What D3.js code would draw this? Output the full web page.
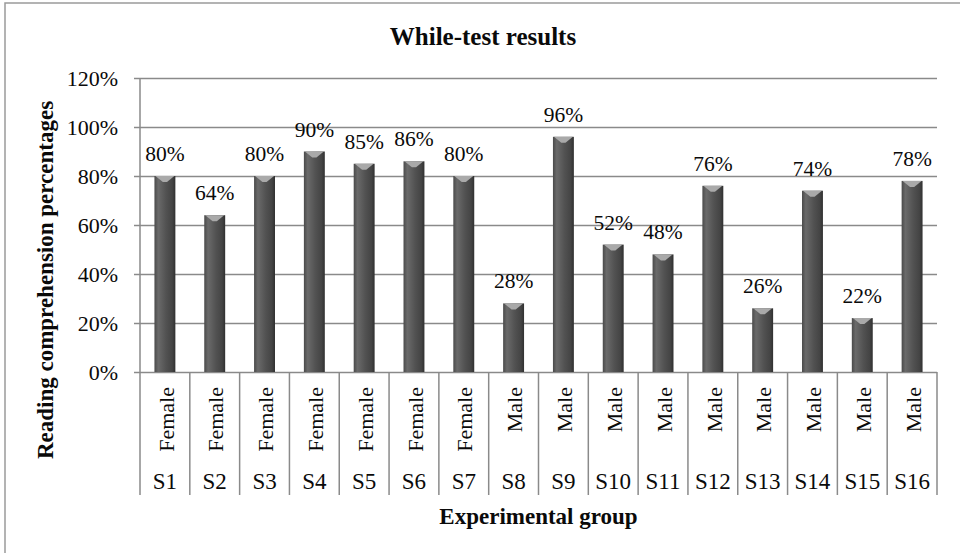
<!DOCTYPE html>
<html>
<head>
<meta charset="utf-8">
<script src="https://cdn.jsdelivr.net/npm/d3@7"></script>
<style>
  html, body { margin: 0; padding: 0; background: #fff; }
  svg { display: block; font-family: "Liberation Serif", "Times New Roman", serif; }
</style>
</head>
<body>
<svg id="chart" width="960" height="553"></svg>
<script>
// While-test results per student
const students = ["S1", "S2", "S3", "S4", "S5", "S6", "S7", "S8",
                  "S9", "S10", "S11", "S12", "S13", "S14", "S15", "S16"];
const genders = ["Female", "Female", "Female", "Female", "Female", "Female", "Female", "Male",
                 "Male", "Male", "Male", "Male", "Male", "Male", "Male", "Male"];
const scores = [0.80, 0.64, 0.80, 0.90, 0.85, 0.86, 0.80, 0.28,
                0.96, 0.52, 0.48, 0.76, 0.26, 0.74, 0.22, 0.78];
const yTicks = [0, 0.2, 0.4, 0.6, 0.8, 1.0, 1.2];

const svg = d3.select("#chart");
const W = 960, H = 553;
const plot = { left: 140, right: 937, top: 78, bottom: 372 };
const catBottom = 495;
const ink = "#0a0a0a";

// outer frame (cut off at right and bottom in the original)
svg.append("rect")
    .attr("x", 5).attr("y", 3)
    .attr("width", W + 20).attr("height", H + 20)
    .attr("fill", "#fff")
    .attr("stroke", "#9a9a9a")
    .attr("stroke-width", 1.5);

const x = d3.scaleBand()
    .domain(students)
    .range([plot.left, plot.right])
    .paddingInner(0)
    .paddingOuter(0);

const y = d3.scaleLinear()
    .domain([0, 1.2])
    .range([plot.bottom, plot.top]);

// gradient for the bars
const defs = svg.append("defs");
const grad = defs.append("linearGradient")
    .attr("id", "barGrad")
    .attr("x1", "0%").attr("x2", "100%").attr("y1", "0%").attr("y2", "0%");
[["0%", "#4a4a4a"], ["18%", "#6a6a6a"], ["55%", "#525252"], ["85%", "#444"], ["100%", "#303030"]]
    .forEach(([o, c]) => grad.append("stop").attr("offset", o).attr("stop-color", c));

// horizontal gridlines + tick marks
const yAxis = d3.axisLeft(y)
    .tickValues(yTicks)
    .tickSize(-(plot.right - plot.left))
    .tickFormat(d3.format(".0%"))
    .tickPadding(22);

const gy = svg.append("g")
    .attr("transform", `translate(${plot.left},0)`)
    .call(yAxis);
gy.select(".domain").remove();
gy.selectAll(".tick line")
    .attr("x1", -6)
    .attr("stroke", "#8a8a8a")
    .attr("stroke-width", 1.5);
gy.selectAll(".tick text")
    .attr("font-size", 22)
    .attr("fill", ink)
    .attr("font-family", "Liberation Serif");

// left axis line
svg.append("line")
    .attr("x1", plot.left).attr("x2", plot.left)
    .attr("y1", plot.top).attr("y2", catBottom)
    .attr("stroke", "#8a8a8a").attr("stroke-width", 1.5);

// category dividers
const bounds = students.map(s => x(s) + x.bandwidth());
svg.append("g")
    .selectAll("line")
    .data(bounds)
    .join("line")
    .attr("x1", d => d).attr("x2", d => d)
    .attr("y1", plot.bottom).attr("y2", catBottom)
    .attr("stroke", "#8a8a8a").attr("stroke-width", 1.5);

// bars
const barW = x.bandwidth() * 0.42;
const bars = svg.append("g")
    .selectAll("g")
    .data(scores)
    .join("g");

bars.append("rect")
    .attr("x", (d, i) => x(students[i]) + (x.bandwidth() - barW) / 2)
    .attr("y", d => y(d))
    .attr("width", barW)
    .attr("height", d => y(0) - y(d))
    .attr("fill", "url(#barGrad)");

// light top cap
bars.append("path")
    .attr("d", (d, i) => {
        const x0 = x(students[i]) + (x.bandwidth() - barW) / 2;
        const t = y(d);
        return `M${x0 + 1},${t} L${x0 + barW - 1},${t} L${x0 + barW * 0.6},${t + 6} L${x0 + barW * 0.4},${t + 6} Z`;
    })
    .attr("fill", "#a9a9a9");

// value labels
bars.append("text")
    .attr("x", (d, i) => x(students[i]) + x.bandwidth() / 2)
    .attr("y", d => y(d) - 15)
    .attr("text-anchor", "middle")
    .attr("font-size", 21.5)
    .attr("fill", ink)
    .text(d => d3.format(".0%")(d));

// gender labels (rotated)
svg.append("g")
    .selectAll("text")
    .data(genders)
    .join("text")
    .attr("transform", (d, i) => `translate(${x(students[i]) + x.bandwidth() / 2 + 1},387) rotate(-90)`)
    .attr("text-anchor", "end")
    .attr("dy", "0.35em")
    .attr("font-size", 22)
    .attr("fill", ink)
    .text(d => d);

// student labels
svg.append("g")
    .selectAll("text")
    .data(students)
    .join("text")
    .attr("x", d => x(d) + x.bandwidth() / 2)
    .attr("y", 489)
    .attr("text-anchor", "middle")
    .attr("font-size", 23)
    .attr("fill", ink)
    .text(d => d);

// titles
svg.append("text")
    .attr("x", 483).attr("y", 45)
    .attr("text-anchor", "middle")
    .attr("font-size", 25)
    .attr("font-weight", "bold")
    .attr("fill", ink)
    .text("While-test results");

svg.append("text")
    .attr("x", (plot.left + plot.right) / 2).attr("y", 524)
    .attr("text-anchor", "middle")
    .attr("font-size", 23)
    .attr("font-weight", "bold")
    .attr("fill", ink)
    .text("Experimental group");

svg.append("text")
    .attr("transform", "translate(53,280) rotate(-90)")
    .attr("text-anchor", "middle")
    .attr("font-size", 23)
    .attr("font-weight", "bold")
    .attr("fill", ink)
    .text("Reading comprehension percentages");
</script>
</body>
</html>
